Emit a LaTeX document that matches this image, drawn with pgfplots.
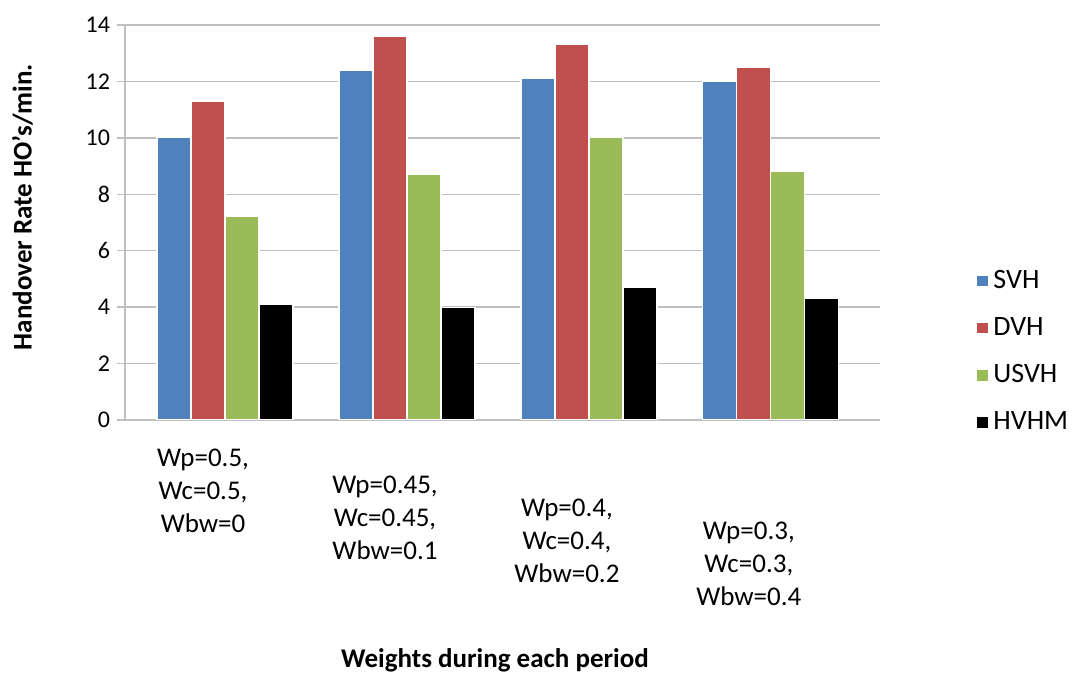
\documentclass[border=0pt]{standalone}
\usepackage{pgfplots}
\pgfplotsset{compat=1.18}
\usepackage{fontspec}
\setmainfont{Carlito}
\definecolor{svh}{HTML}{4F81BD}
\definecolor{dvh}{HTML}{C0504D}
\definecolor{usvh}{HTML}{9BBB59}
\definecolor{gridc}{HTML}{BFBFBF}
\begin{document}
\begin{tikzpicture}
\useasboundingbox (0,0) rectangle (539pt,337pt);
\begin{axis}[
  at={(62.5pt,127pt)}, anchor=south west,
  scale only axis, width=377.5pt, height=197.5pt,
  ymin=0, ymax=14, ytick={0,2,...,14},
  xmin=-0.55, xmax=3.6, xtick={0,1,2,3},
  xticklabels={
    {Wp=0.5,\\Wc=0.5,\\Wbw=0},
    {\rule{0pt}{22pt}Wp=0.45,\\Wc=0.45,\\Wbw=0.1},
    {\rule{0pt}{33.5pt}Wp=0.4,\\Wc=0.4,\\Wbw=0.2},
    {\rule{0pt}{45pt}Wp=0.3,\\Wc=0.3,\\Wbw=0.4}},
  xticklabel style={align=center, font=\fontsize{13.5}{16.5}\selectfont, xshift=-11pt, yshift=-7pt},
  yticklabel style={font=\fontsize{12}{14}\selectfont},
  /pgf/number format/assume math mode=true,
  ybar=0pt, bar width=17pt,
  axis lines=left,
  axis line style={draw=gridc, line width=0.7pt, -},
  ymajorgrids, grid style={draw=gridc, line width=0.7pt},
  tick align=outside, major tick length=4pt,
  ytick style={draw=gridc, line width=0.7pt},
  xtick style={draw=none},
  ylabel={\textbf{Handover Rate HO's/min.}},
  ylabel style={at={(axis description cs:-0.136,0.539)}, anchor=center, font=\fontsize{13.5}{16}\selectfont},
  xlabel={\textbf{Weights during each period}},
  xlabel style={at={(axis description cs:0.49,-0.608)}, anchor=center, font=\fontsize{13.5}{16}\selectfont},
  legend style={at={(axis description cs:1.119,0.40)}, anchor=north west, draw=none, fill=none,
    font=\fontsize{14}{16}\selectfont, row sep=9pt},
  legend cell align=left,
  legend image code/.code={\fill[#1] (0pt,-3pt) rectangle (6pt,3pt);},
]
\addplot[fill=svh, draw=white, line width=0.6pt] coordinates {(0,10.0) (1,12.4) (2,12.1) (3,12.0)};
\addplot[fill=dvh, draw=white, line width=0.6pt] coordinates {(0,11.3) (1,13.6) (2,13.3) (3,12.5)};
\addplot[fill=usvh, draw=white, line width=0.6pt] coordinates {(0,7.2) (1,8.7) (2,10.0) (3,8.8)};
\addplot[fill=black, draw=white, line width=0.6pt] coordinates {(0,4.1) (1,4.0) (2,4.7) (3,4.3)};
\legend{SVH,DVH,USVH,HVHM}
\end{axis}
\end{tikzpicture}
\end{document}
